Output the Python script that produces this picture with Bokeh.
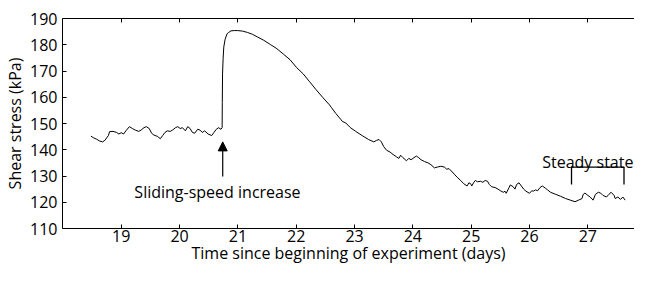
from bokeh.plotting import figure
from bokeh.models import (Range1d, LinearAxis, FixedTicker, Label, Arrow, NormalHead,
                          CustomJSTickFormatter)
from bokeh.embed import file_html
from bokeh.resources import INLINE

# ---- data ----
days = [
    18.48, 18.52, 18.58, 18.63, 18.68, 18.72, 18.78, 18.80, 18.86, 18.92, 18.96, 19.00,
    19.04, 19.08, 19.14, 19.19, 19.24, 19.30, 19.34, 19.39, 19.43, 19.48, 19.52, 19.56,
    19.62, 19.67, 19.71, 19.75, 19.79, 19.84, 19.88, 19.93, 19.97, 20.01, 20.05, 20.10,
    20.14, 20.18, 20.22, 20.26, 20.31, 20.35, 20.39, 20.43, 20.49, 20.55, 20.59, 20.63,
    20.67, 20.71, 20.73, 20.733, 20.737, 20.747, 20.758, 20.781, 20.815, 20.843, 20.882,
    20.938, 20.995, 21.079, 21.163, 21.248, 21.332, 21.444, 21.557, 21.669, 21.782,
    21.894, 22.007, 22.12, 22.23, 22.34, 22.46, 22.57, 22.60, 22.68, 22.77, 22.79, 22.85,
    22.93, 23.02, 23.13, 23.24, 23.33, 23.38, 23.42, 23.46, 23.50, 23.55, 23.61, 23.66,
    23.72, 23.76, 23.79, 23.83, 23.89, 23.93, 23.97, 24.02, 24.06, 24.10, 24.14, 24.20,
    24.26, 24.31, 24.37, 24.42, 24.48, 24.54, 24.58, 24.62, 24.66, 24.71, 24.76, 24.82,
    24.87, 24.93, 24.96, 24.99, 25.01, 25.04, 25.07, 25.11, 25.16, 25.20, 25.24, 25.28,
    25.31, 25.35, 25.41, 25.46, 25.50, 25.55, 25.58, 25.60, 25.65, 25.67, 25.72, 25.75,
    25.78, 25.82, 25.86, 25.90, 25.94, 26.00, 26.04, 26.065, 26.10, 26.14, 26.18, 26.22,
    26.27, 26.31, 26.36, 26.45, 26.53, 26.62, 26.70, 26.78, 26.84, 26.90, 26.92, 26.95,
    27.00, 27.04, 27.09, 27.13, 27.18, 27.22, 27.26, 27.32, 27.36, 27.40, 27.45, 27.47,
    27.515, 27.56, 27.60, 27.64,
]
stress = [
    145.2, 144.6, 144.0, 143.3, 143.0, 143.6, 145.4, 146.9, 147.0, 146.6, 146.0, 146.5,
    146.0, 147.2, 148.8, 148.1, 147.5, 147.0, 147.5, 148.4, 148.8, 148.1, 146.3, 145.6,
    145.1, 144.2, 145.4, 146.6, 147.2, 147.0, 147.5, 148.4, 148.8, 148.1, 148.4, 147.2,
    148.8, 148.1, 146.6, 146.3, 147.8, 147.5, 146.6, 147.2, 146.0, 145.4, 146.6, 147.8,
    148.4, 147.8, 148.4, 158.0, 168.9, 174.9, 179.1, 182.1, 184.2, 184.7, 185.3,
    185.4, 185.4, 185.2, 184.7, 184.0, 183.0, 181.7, 180.1, 178.5, 176.4,
    174.3, 171.3, 168.9, 165.9, 162.9, 159.8, 157.1, 156.2, 153.8, 151.4, 150.8, 150.2,
    148.4, 147.0, 145.4, 143.9, 143.0, 143.6, 143.9, 143.0, 141.2, 139.8, 139.1, 138.2,
    137.3, 136.7, 137.9, 137.0, 135.8, 136.7, 136.2, 137.0, 137.6, 137.0, 136.2, 135.5,
    135.0, 134.3, 133.1, 133.4, 133.7, 133.4, 132.6, 132.8, 131.9, 130.7, 129.5, 128.3,
    127.1, 126.2, 127.4, 127.1, 126.2, 127.4, 128.3, 127.8, 128.0, 127.6, 128.3, 128.0,
    126.8, 125.9, 125.6, 125.0, 124.4, 123.8, 124.2, 123.4, 125.6, 126.6, 125.9, 125.0,
    126.8, 127.4, 126.2, 125.0, 124.2, 123.4, 124.4, 124.2, 124.7, 124.4, 125.6, 126.2,
    125.4, 124.7, 123.8, 123.0, 122.3, 121.4, 120.8, 120.2, 120.8, 121.4, 123.0, 123.5,
    122.6, 122.0, 120.8, 123.0, 123.8, 123.5, 122.6, 122.0, 123.0, 123.8, 122.6, 121.4,
    122.0, 121.1, 122.0, 120.8,
]
x_ticks = [19, 20, 21, 22, 23, 24, 25, 26, 27]
y_ticks = [110, 120, 130, 140, 150, 160, 170, 180, 190]

x_title = "Time since beginning of experiment (days)"
y_title = "Shear stress (kPa)"

# annotations
arrow_x = 20.74
arrow_y_start, arrow_y_end = 129.8, 143.0
increase_label = "Sliding-speed increase"
increase_label_x, increase_label_y = 20.65, 123.9
steady_label = "Steady state"
steady_label_x, steady_label_y = 27.0, 135.2
bracket_x = [26.72, 26.72, 27.62, 27.62]
bracket_y = [126.8, 133.4, 133.4, 126.8]

FONT = "Open Sans"
FS = "16px"

p = figure(width=634, height=266, output_backend="svg", toolbar_location=None,
           x_range=Range1d(17.993, 27.80), y_range=Range1d(110, 190),
           x_axis_location=None, y_axis_location=None,
           min_border_left=62, min_border_right=0, min_border_top=18, min_border_bottom=0)
p.outline_line_color = None
p.xgrid.visible = False
p.ygrid.visible = False
p.background_fill_color = "white"
p.border_fill_color = "white"

def style(ax):
    ax.axis_line_color = "black"
    ax.axis_line_width = 1
    ax.major_tick_line_color = "black"
    ax.major_tick_in = 4
    ax.major_tick_out = 0
    ax.minor_tick_line_color = None
    ax.major_label_text_font = FONT
    ax.major_label_text_font_size = FS
    ax.major_label_text_color = "black"
    ax.axis_label_text_font = FONT
    ax.axis_label_text_font_size = FS
    ax.axis_label_text_font_style = "normal"
    ax.axis_label_text_color = "black"

xb = LinearAxis(ticker=FixedTicker(ticks=x_ticks), axis_label=x_title)
style(xb)
xb.major_label_standoff = 1
xb.axis_label_standoff = -3
p.add_layout(xb, "below")

xt = LinearAxis(ticker=FixedTicker(ticks=x_ticks),
                formatter=CustomJSTickFormatter(code="return ''"))
style(xt)
xt.major_label_standoff = 0
p.add_layout(xt, "above")

yl = LinearAxis(ticker=FixedTicker(ticks=y_ticks), axis_label=y_title)
style(yl)
yl.major_label_standoff = 5
yl.axis_label_standoff = 1
p.add_layout(yl, "left")

p.line(days, stress, line_color="black", line_width=1)

p.line(bracket_x, bracket_y, line_color="black", line_width=1.3)

p.add_layout(Arrow(end=NormalHead(size=9, fill_color="black", line_color="black"),
                   x_start=arrow_x, y_start=arrow_y_start, x_end=arrow_x, y_end=arrow_y_end,
                   line_color="black", line_width=1.2))

p.add_layout(Label(x=increase_label_x, y=increase_label_y, text=increase_label,
                   text_font=FONT, text_font_size=FS, text_align="center",
                   text_baseline="alphabetic", text_color="black"))
p.add_layout(Label(x=steady_label_x, y=steady_label_y, text=steady_label,
                   text_font=FONT, text_font_size=FS, text_align="center",
                   text_baseline="alphabetic", text_color="black"))

open("out.html", "w").write(file_html(p, INLINE))
